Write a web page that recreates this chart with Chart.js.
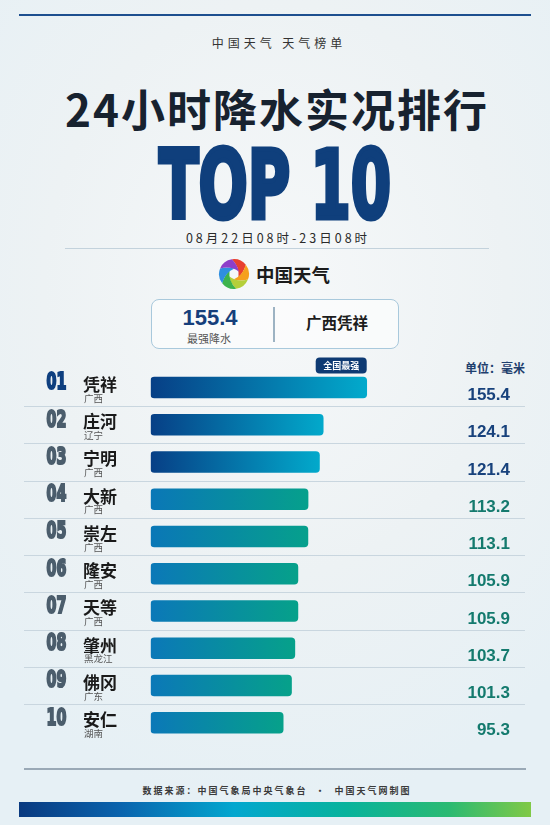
<!DOCTYPE html>
<html>
<head>
<meta charset="utf-8">
<script src="https://cdn.jsdelivr.net/npm/chart.js@4"></script>
<style>
  html, body { margin: 0; padding: 0; }
  body {
    width: 550px; height: 825px; position: relative; overflow: hidden;
    font-family: "Noto Sans CJK SC", "Noto Sans", sans-serif;
    background: radial-gradient(ellipse 420px 520px at 50% 35%, #f6f8f9 0%, #edf2f4 55%, #e6f0f5 100%);
  }
  .abs { position: absolute; }
  .center { left: 0; width: 550px; text-align: center; white-space: pre; }
  #topLine { left: 19px; top: 14px; width: 512px; height: 2px; background: #1d4f8f; }
  #sub { top: 35px; height: 16px; line-height: 16px; font-size: 12px; letter-spacing: 4px; padding-left: 4px; color: #333; }
  #title { top: 83px; height: 50px; line-height: 50px; font-size: 44px; font-weight: 700; letter-spacing: 2px; padding-left: 2px; color: #17222f; }
  #top10 { top: 135px; height: 100px; line-height: 100px; font-family: "DejaVu Sans"; font-size: 95px; font-weight: 700;
           color: #0f3f7c; -webkit-text-stroke: 5px #0f3f7c; transform: scaleX(0.61); transform-origin: 275px 50px; }
  #date { top: 230px; height: 16px; line-height: 16px; font-size: 12.5px; letter-spacing: 3px; padding-left: 3px; color: #2a2a2a; }
  #dateLine { left: 65px; top: 248px; width: 424px; height: 1px; background: #c3d2dc; }
  #logo { left: 217px; top: 257px; }
  #brand { left: 256px; top: 263px; line-height: 22px; font-size: 18.5px; font-weight: 700; color: #1b1b1b; }
  #box { left: 151px; top: 299px; width: 246px; height: 48px; border: 1px solid #a9c9dc; border-radius: 8px; background: rgba(255,255,255,0.55); }
  #maxVal { left: 160px; width: 100px; text-align: center; top: 305px; line-height: 26px; font-family: "Liberation Sans"; font-weight: 700; font-size: 22px; color: #163f7b; }
  #maxLbl { left: 160px; width: 98px; text-align: center; top: 330px; line-height: 16px; font-size: 11px; color: #555; }
  #divider { left: 273px; top: 307px; width: 1.5px; height: 35px; background: #9db3c3; }
  #maxSite { left: 287px; width: 100px; text-align: center; top: 311px; line-height: 22px; font-size: 15.5px; font-weight: 700; color: #1d1d1d; }
  #unit { left: 465px; top: 360px; line-height: 16px; font-size: 12px; font-weight: 700; color: #1f3f6e; }
  #chartBox { left: 0; top: 350px; width: 550px; height: 400px; }
  #footLine { left: 24px; top: 768px; width: 502px; height: 2px; background: #9aa9b6; }
  #source { top: 783px; height: 16px; line-height: 16px; font-size: 9px; letter-spacing: 2px; padding-left: 2px; color: #3a3a3a; font-weight: 700; }
  #footBar { left: 19px; top: 802px; width: 512px; height: 15px;
             background: linear-gradient(90deg, #0a3a80 0%, #0a64ae 20%, #03a7cf 42%, #08b39c 64%, #2bba72 84%, #80c946 100%); }
</style>
</head>
<body>
<div id="topLine" class="abs"></div>
<div id="sub" class="abs center">中国天气 天气榜单</div>
<div id="title" class="abs center">24小时降水实况排行</div>
<div id="top10" class="abs center">TOP 10</div>
<div id="date" class="abs center">08月22日08时-23日08时</div>
<div id="dateLine" class="abs"></div>
<canvas id="logo" class="abs" width="34" height="34"></canvas>
<div id="brand" class="abs">中国天气</div>
<div id="box" class="abs"></div>
<div id="maxVal" class="abs"></div>
<div id="maxLbl" class="abs">最强降水</div>
<div id="divider" class="abs"></div>
<div id="maxSite" class="abs"></div>
<div id="unit" class="abs">单位：毫米</div>
<div id="chartBox" class="abs"><canvas id="rankChart" width="550" height="400"></canvas></div>
<div id="footLine" class="abs"></div>
<div id="source" class="abs center">数据来源：中国气象局中央气象台  ·  中国天气网制图</div>
<div id="footBar" class="abs"></div>

<script>
// data
const ranks = ["01", "02", "03", "04", "05", "06", "07", "08", "09", "10"];
const stations = ["凭祥", "庄河", "宁明", "大新", "崇左", "隆安", "天等", "肇州", "佛冈", "安仁"];
const provinces = ["广西", "辽宁", "广西", "广西", "广西", "广西", "广西", "黑龙江", "广东", "湖南"];
const rainfall = [155.4, 124.1, 121.4, 113.2, 113.1, 105.9, 105.9, 103.7, 101.3, 95.3];
const badgeText = "全国最强";

// colours by row group
const barFrom = ["#073f86", "#073f86", "#073f86", "#0a77b7", "#0a77b7", "#0b78b8", "#0b78b8", "#0b78b8", "#0b78b8", "#0b78b8"];
const barTo = ["#02aacc", "#02a9cb", "#02a9cb", "#06a08c", "#06a08c", "#06a18a", "#06a18a", "#06a18a", "#06a18a", "#06a18a"];

document.getElementById("maxVal").textContent = rainfall[0].toFixed(1);
document.getElementById("maxSite").textContent = provinces[0] + stations[0];

function drawLogo() {
  const c = document.getElementById("logo").getContext("2d");
  // clockwise from top: red, orange, yellow-green, green, blue, purple
  const colors = ["#e8402f", "#f5a01c", "#b5cf3a", "#3db34c", "#2f8fe0", "#8e3fc9"];
  const cx = 17, cy = 17;
  const p = (r, a) => [cx + r * Math.cos(a), cy + r * Math.sin(a)];
  const d = Math.PI / 180;
  for (let i = 0; i < 6; i++) {
    const a = -60 * d + i * 60 * d;
    const s = p(15, a - 38 * d);
    c.fillStyle = colors[i];
    c.beginPath();
    c.moveTo(s[0], s[1]);
    c.arc(cx, cy, 15, a - 38 * d, a + 22 * d);
    const m1 = p(10, a + 50 * d), e1 = p(5.5, a + 95 * d);
    c.quadraticCurveTo(m1[0], m1[1], e1[0], e1[1]);
    const m2 = p(9, a + 10 * d);
    c.quadraticCurveTo(m2[0], m2[1], s[0], s[1]);
    c.fill();
  }
}

function barGradient(context) {
  const chart = context.chart;
  if (!chart.chartArea) return barFrom[0];
  const i = context.dataIndex;
  const x = chart.scales.x;
  const x0 = x.getPixelForValue(0);
  const x1 = x.getPixelForValue(rainfall[i]);
  const g = chart.ctx.createLinearGradient(x0, 0, x1, 0);
  g.addColorStop(0, barFrom[i]);
  g.addColorStop(1, barTo[i]);
  return g;
}

const rowText = {
  id: "rowText",
  beforeDatasetsDraw(chart) {
    const ctx = chart.ctx;
    const y = chart.scales.y;
    const band = y.getPixelForValue(1) - y.getPixelForValue(0);
    ctx.save();
    ctx.strokeStyle = "#c9d6df";
    ctx.lineWidth = 1.2;
    for (let i = 0; i < ranks.length - 1; i++) {
      const ly = Math.round(y.getPixelForValue(i) + band / 2) + 0.5;
      ctx.beginPath();
      ctx.moveTo(24, ly);
      ctx.lineTo(525, ly);
      ctx.stroke();
    }
    ctx.restore();
  },
  afterDatasetsDraw(chart) {
    const ctx = chart.ctx;
    const y = chart.scales.y;
    const x = chart.scales.x;
    ctx.save();
    ranks.forEach((r, i) => {
      const cy = y.getPixelForValue(i);
      // rank number, condensed
      ctx.save();
      ctx.translate(56.5, cy - 4);
      ctx.scale(0.62, 1);
      ctx.font = "bold 23px 'DejaVu Sans'";
      ctx.textAlign = "center";
      ctx.textBaseline = "middle";
      ctx.fillStyle = i === 0 ? "#0e3f7f" : "#4b5d6c";
      ctx.strokeStyle = ctx.fillStyle;
      ctx.lineWidth = 2.2;
      ctx.strokeText(r, 0, 0);
      ctx.fillText(r, 0, 0);
      ctx.restore();
      // station + province
      ctx.textAlign = "left";
      ctx.textBaseline = "middle";
      ctx.fillStyle = "#1a1a1a";
      ctx.font = "bold 17px 'Noto Sans CJK SC'";
      ctx.fillText(stations[i], 83, cy - 3);
      ctx.fillStyle = "#555";
      ctx.font = "9.5px 'Noto Sans CJK SC'";
      ctx.fillText(provinces[i], 84, cy + 10.5);
      // value
      ctx.textAlign = "right";
      ctx.fillStyle = i < 3 ? "#18427c" : "#147a6e";
      ctx.font = "bold 17px 'Liberation Sans'";
      ctx.fillText(rainfall[i].toFixed(1), 510, cy + 8);
    });
    // badge over the strongest bar
    const bx1 = x.getPixelForValue(rainfall[0]);
    const by = y.getPixelForValue(0);
    ctx.fillStyle = "#0e3a73";
    ctx.beginPath();
    ctx.roundRect(bx1 - 51, by - 30, 51, 16, 4);
    ctx.fill();
    ctx.fillStyle = "#fff";
    ctx.font = "bold 9px 'Noto Sans CJK SC'";
    ctx.textAlign = "center";
    ctx.textBaseline = "middle";
    ctx.fillText(badgeText, bx1 - 25.5, by - 22);
    ctx.restore();
  },
};

function drawRankChart() {
  const data = {
    labels: stations,
    datasets: [
      {
        data: rainfall,
        backgroundColor: barGradient,
        borderRadius: 4,
        borderSkipped: false,
        barThickness: 21,
      },
    ],
  };

  const config = {
    type: "bar",
    data: data,
    options: {
      indexAxis: "y",
      responsive: false,
      animation: false,
      layout: {
        padding: { left: 150.7, right: 121.3, top: 18.9, bottom: 8.6 },
      },
      plugins: {
        legend: { display: false },
        tooltip: { enabled: false },
      },
      scales: {
        x: { display: false, min: 0, max: 200 },
        y: { display: false },
      },
    },
    plugins: [rowText],
  };
  new Chart(document.getElementById("rankChart"), config);
}

drawLogo();
drawRankChart();
</script>
</body>
</html>
